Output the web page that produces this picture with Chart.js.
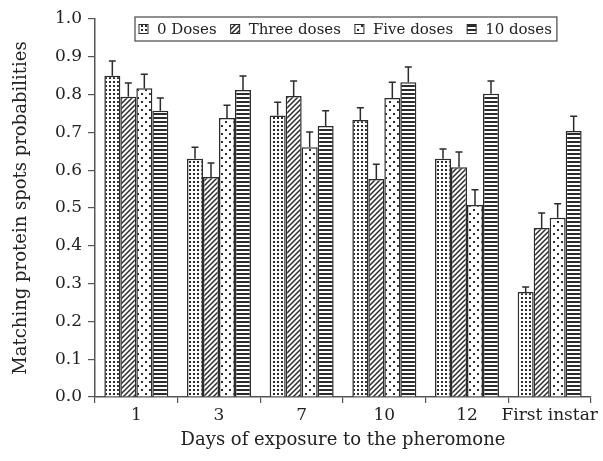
<!DOCTYPE html>
<html>
<head>
<meta charset="utf-8">
<script src="https://cdn.jsdelivr.net/npm/chart.js@4/dist/chart.umd.min.js"></script>
<style>
  html, body { margin: 0; padding: 0; background: #fff; }
  #wrap { width: 603px; height: 461px; }
</style>
</head>
<body>
<div id="wrap"><canvas id="c" width="603" height="461"></canvas></div>
<script>
// values
const categories = ['1', '3', '7', '10', '12', 'First instar'];
const seriesNames = ['0 Doses', 'Three doses', 'Five doses', '10 doses'];
const dose0 = [0.850, 0.630, 0.745, 0.733, 0.630, 0.278];
const dose0Err = [0.039, 0.031, 0.035, 0.032, 0.026, 0.013];
const dose3 = [0.794, 0.582, 0.796, 0.577, 0.608, 0.447];
const dose3Err = [0.037, 0.037, 0.040, 0.039, 0.040, 0.040];
const dose5 = [0.817, 0.738, 0.661, 0.791, 0.508, 0.474];
const dose5Err = [0.037, 0.034, 0.040, 0.042, 0.040, 0.037];
const dose10 = [0.757, 0.812, 0.717, 0.833, 0.802, 0.704];
const dose10Err = [0.034, 0.037, 0.040, 0.040, 0.034, 0.039];
const yTicks = [0, 0.1, 0.2, 0.3, 0.4, 0.5, 0.6, 0.7, 0.8, 0.9, 1.0];

const INK = '#2b2b2b';
const AXIS = '#555';
const FONT = '"DejaVu Serif", serif';

// fill patterns
function makePattern(kind) {
    const c = document.createElement('canvas');
    const g = c.getContext('2d');
    let s = 4;
    if (kind === 'sparse') s = 8;
    if (kind === 'diag') s = 5;
    c.width = s; c.height = s;
    g.fillStyle = '#fff';
    g.fillRect(0, 0, s, s);
    g.fillStyle = INK;
    g.strokeStyle = INK;
    if (kind === 'dots') {
        g.fillRect(1, 1, 2, 2);
    } else if (kind === 'sparse') {
        g.fillRect(1, 1, 2, 2);
        g.fillRect(5, 5, 2, 2);
    } else if (kind === 'diag') {
        g.lineWidth = 1.5;
        g.beginPath();
        g.moveTo(-1, s + 1); g.lineTo(s + 1, -1);
        g.moveTo(-1, 1); g.lineTo(1, -1);
        g.moveTo(s - 1, s + 1); g.lineTo(s + 1, s - 1);
        g.stroke();
    } else if (kind === 'hlines') {
        g.fillRect(0, 1, s, 2);
    }
    return g.createPattern(c, 'repeat');
}

const patterns = [makePattern('dots'), makePattern('diag'), makePattern('sparse'), makePattern('hlines')];
const values = [dose0, dose3, dose5, dose10];
const errors = [dose0Err, dose3Err, dose5Err, dose10Err];

const datasets = seriesNames.map((name, i) => ({
    label: name,
    data: values[i],
    errs: errors[i],
    backgroundColor: patterns[i],
    borderColor: INK,
    borderWidth: 1.5,
    borderSkipped: 'bottom',
    categoryPercentage: 0.774,
    barPercentage: 1.0
}));

const errorBars = {
    id: 'errorBars',
    afterDatasetsDraw(chart) {
        const ctx = chart.ctx;
        const y = chart.scales.y;
        ctx.save();
        ctx.strokeStyle = INK;
        ctx.lineWidth = 1.5;
        chart.data.datasets.forEach((ds, di) => {
            const meta = chart.getDatasetMeta(di);
            meta.data.forEach((bar, j) => {
                const top = y.getPixelForValue(ds.data[j] + ds.errs[j]);
                ctx.beginPath();
                ctx.moveTo(bar.x, bar.y);
                ctx.lineTo(bar.x, top);
                ctx.moveTo(bar.x - 3.5, top);
                ctx.lineTo(bar.x + 3.5, top);
                ctx.stroke();
            });
        });
        ctx.restore();
    }
};

const boxLegend = {
    id: 'boxLegend',
    afterDraw(chart) {
        const ctx = chart.ctx;
        const left = 135, top = 17, h = 24, cy = top + h / 2;
        ctx.save();
        ctx.font = '15px ' + FONT;
        let x = left + 4;
        const items = chart.data.datasets.map(ds => {
            const w = ctx.measureText(ds.label).width;
            const it = { sx: x, tx: x + 18, label: ds.label, fill: ds.backgroundColor };
            x += 18 + w + 14;
            return it;
        });
        const right = x - 14 + 5;
        ctx.fillStyle = '#fff';
        ctx.fillRect(left, top, right - left, h);
        ctx.strokeStyle = AXIS;
        ctx.lineWidth = 1.3;
        ctx.strokeRect(left, top, right - left, h);
        items.forEach(it => {
            ctx.fillStyle = it.fill;
            ctx.fillRect(it.sx, cy - 4.5, 9, 9);
            ctx.strokeStyle = INK;
            ctx.lineWidth = 1;
            ctx.strokeRect(it.sx, cy - 4.5, 9, 9);
            ctx.fillStyle = '#222';
            ctx.textBaseline = 'middle';
            ctx.textAlign = 'left';
            ctx.fillText(it.label, it.tx, cy + 1);
        });
        ctx.restore();
    }
};

new Chart(document.getElementById('c'), {
    type: 'bar',
    data: { labels: categories, datasets: datasets },
    options: {
        responsive: false,
        animation: false,
        devicePixelRatio: 1,
        layout: { padding: { left: 0, right: 12, top: 19, bottom: 0 } },
        plugins: { legend: { display: false }, tooltip: { enabled: false } },
        scales: {
            x: {
                afterFit(s) { s.height = 64; },
                grid: { drawOnChartArea: false, drawTicks: true, tickLength: 6, offset: true, color: AXIS, lineWidth: 1.2 },
                border: { color: AXIS, width: 1.5 },
                ticks: { color: '#222', font: { family: FONT, size: 17 }, padding: 2, maxRotation: 0, autoSkip: false },
                title: { display: true, text: 'Days of exposure to the pheromone', color: '#222', font: { family: FONT, size: 18 }, padding: { top: 0, bottom: 10 } }
            },
            y: {
                min: 0, max: 1,
                afterFit(s) { s.width = 95; },
                afterBuildTicks(s) { s.ticks = yTicks.map(v => ({ value: v })); },
                grid: { drawOnChartArea: false, drawTicks: true, tickLength: 7, color: AXIS, lineWidth: 1.2 },
                border: { color: AXIS, width: 1.5 },
                ticks: { color: '#222', font: { family: FONT, size: 17 }, padding: 6, callback: v => v.toFixed(1) },
                title: { display: true, text: 'Matching protein spots probabilities', color: '#222', font: { family: FONT, size: 18 }, padding: { top: 11, bottom: 0 } }
            }
        }
    },
    plugins: [errorBars, boxLegend]
});
</script>
</body>
</html>
